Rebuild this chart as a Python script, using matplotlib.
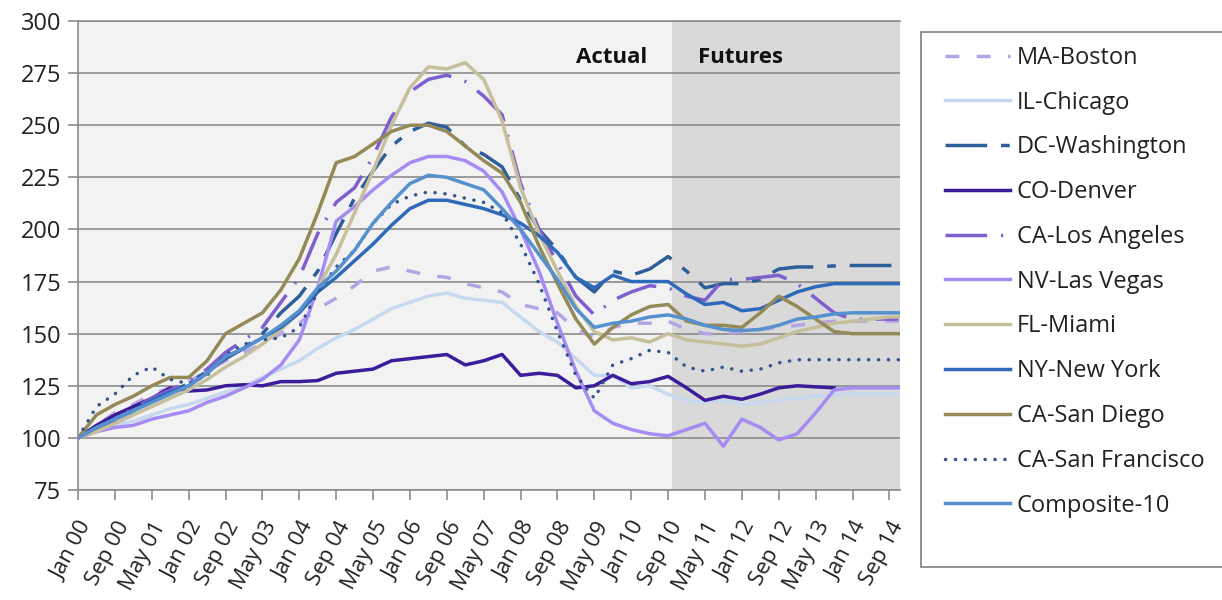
import numpy as np
import matplotlib
matplotlib.use("Agg")
import matplotlib.pyplot as plt
from matplotlib.patches import Rectangle

plt.rcParams['font.family'] = ['Open Sans', 'DejaVu Sans']

# month index (0 = Jan 2000), sampled every 4 months, plus Nov 2014
months = list(range(0, 177, 4)) + [178]

boston = [100,106,112,116,121,124,127,132,137,141,145,150,155,162,167,173,180,182,180,178,
          177,174,172,170,164,162,160,152,148,153,155,155,156,152,150,150,151,152,153,154,
          155,156,156,156,156,156]
chicago = [100,103,106,108,111,114,116,119,122,125,129,133,137,143,148,152,157,162,165,168,
           169.5,167,166,165,158,151,146,138,130,130,124,125,121,118,117,118,116,117,118,119,
           120,121,121,121,121,121]
washington = [100,104,108,113,118,122,126,132,138,143,150,160,168,180,198,215,228,240,247,251,
              249,240,236,230,214,200,190,177,170,180,178,181,187,180,172,174,174,176,181,182,
              182,182.5,182.7,182.7,182.7,182.7]
denver = [100,106,111,115,119,124,122.5,123,125,125.5,125,127,127,127.5,131,132,133,137,138,139,
          140,135,137,140,130,131,130,124,125,130,126,127,129.5,124,118,120,118.5,121,124,125,
          124.5,124,np.nan,np.nan,np.nan,np.nan]
los_angeles = [100,104,109,114,119,123,127,133,141,147,153,165,177,198,213,220,235,254,266,272,
               274,271,264,255,222,200,184,168,159,166,170,173,172,168,166,176,176,177,178,174,
               167,160,157,157,157,157]
las_vegas = [100,103,105,106,109,111,113,117,120,124,128,135,147,172,204,211,219,226,232,235,
             235,233,228,218,200,180,155,132,113,107,104,102,101,104,107,96,109,105,99,102,
             112,123,124,124,124,124]
miami = [100,103,107,111,115,119,123,128,134,139,145,152,160,172,188,208,228,250,268,278,
         277,280,272,252,220,198,180,163,151,147,148,146,150,147,146,145,144,145,148,151,
         153,155,156,157,158,158]
new_york = [100,105,109,113,118,122,125,131,139,143,148,153,160,170,177,185,193,202,210,214,
            214,212,210,207,203,197,189,177,172,178,175,175,175,169,164,165,161,162,166,170,
            172.5,174,174,174,174,174]
san_diego = [100,111,116,120,125,129,129,137,150,155,160,171,186,208,232,235,241,247,250,250,
             247,240,233,227,213,192,174,157,145,153,159,163,164,156,154,154,153,160,168,163,
             157,151,150,150,150,150]
san_francisco = [100,115,121,130,134,128,126,130,140,145,147,148,153,170,182,190,203,212,216,218,
                 217,215,213,208,193,174,151,130,119,135,138,142,141,134,132,134,132,133,136,137.5,
                 137.5,137.5,137.5,137.5,137.5,137.5]
composite = [100,105,109,113,117,121,125,131,139,143,148,154,161,172,180,190,203,213,222,226,
             225,222,219,210,200,188,176,162,153,155,156,158,159,157,154,152,151.5,152,154,157,
             158,159.5,160,160,160,160]

series_names = ["MA-Boston", "IL-Chicago", "DC-Washington", "CO-Denver", "CA-Los Angeles",
                "NV-Las Vegas", "FL-Miami", "NY-New York", "CA-San Diego", "CA-San Francisco",
                "Composite-10"]
series_values = [boston, chicago, washington, denver, los_angeles, las_vegas, miami,
                 new_york, san_diego, san_francisco, composite]

tick_labels = ["Jan 00", "Sep 00", "May 01", "Jan 02", "Sep 02", "May 03", "Jan 04", "Sep 04",
               "May 05", "Jan 06", "Sep 06", "May 07", "Jan 08", "Sep 08", "May 09", "Jan 10",
               "Sep 10", "May 11", "Jan 12", "Sep 12", "May 13", "Jan 14", "Sep 14"]
futures_start = 128.8

colors = ['#b4a4e4', '#c8d8ee', '#2e5e99', '#3b1d9b', '#7f5fd0', '#a68cf2',
          '#c6bf9c', '#2f6ab8', '#948a58', '#34558f', '#5690cf']
styles = [dict(dashes=(4, 5)), dict(), dict(dashes=(12, 4, 2.5, 4)), dict(),
          dict(dashes=(12, 4, 0.6, 4)), dict(), dict(), dict(), dict(),
          dict(dashes=(0.05, 2.8), dash_capstyle='round'), dict()]

W, H = 1222, 600
fig = plt.figure(figsize=(W/100, H/100), dpi=100)
ax = fig.add_axes([78/W, 1-490/H, (900-78)/W, (490-21)/H])
ax.set_facecolor('#f2f2f2')
xmax = 178.3
ax.set_xlim(0, xmax)
ax.set_ylim(75, 300)

ax.axvspan(futures_start, xmax, color='#d9d9d9', zorder=0.2, lw=0)

ax.set_axisbelow(True)
ax.yaxis.grid(True, color='#8c8c8c', lw=1.2)
ax.axhline(300, color='#8c8c8c', lw=1.2, clip_on=False, zorder=0.6)

for name, vals, c, st in zip(series_names, series_values, colors, styles):
    ax.plot(months, vals, color=c, lw=2.5, label=name, solid_joinstyle='round', **st)

ax.set_yticks(range(75, 301, 25))
ax.set_xticks(range(0, 177, 8))
ax.set_xticklabels(tick_labels, rotation=62, ha='right', va='top', rotation_mode='anchor')
ax.tick_params(axis='both', direction='out', color='#8c8c8c', length=7, width=1.2,
               labelcolor='#222222')
ax.tick_params(axis='y', labelsize=17, pad=5)
ax.tick_params(axis='x', labelsize=16, pad=13)
for s in ['top', 'right']:
    ax.spines[s].set_visible(False)
for s in ['left', 'bottom']:
    ax.spines[s].set_color('#8c8c8c')
    ax.spines[s].set_linewidth(1.2)

ax.text(115.8, 282.7, "Actual", fontsize=16, fontweight='bold', ha='center', va='center',
        color='#111111')
ax.text(143.6, 282.7, "Futures", fontsize=16, fontweight='bold', ha='center', va='center',
        color='#111111')

# legend frame drawn separately (reference box has extra space at the bottom)
fig.patches.append(Rectangle((921/W, 1-567/H), (1240-921)/W, (567-32)/H,
                             transform=fig.transFigure, facecolor='white',
                             edgecolor='#7f7f7f', lw=1.2, zorder=0))

leg = fig.legend(loc='upper left', bbox_to_anchor=(933/W, 1-40/H, (1240-933)/W, 0.01),
                 mode='expand', fontsize=17, frameon=False,
                 handlelength=2.75, handletextpad=0.3,
                 labelspacing=0.88, borderpad=0.5, borderaxespad=0)
for t in leg.get_texts():
    t.set_color('#222222')

fig.savefig('out.png', dpi=100, facecolor='white')
